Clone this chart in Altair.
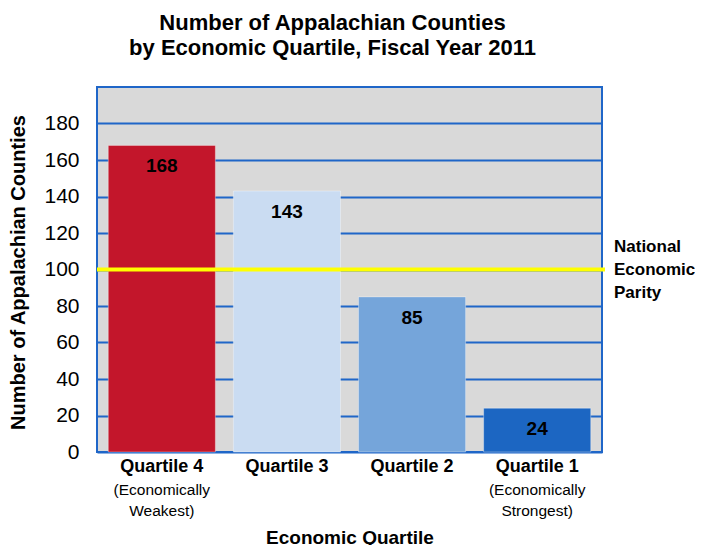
import altair as alt
import pandas as pd

categories = ["Quartile 4", "Quartile 3", "Quartile 2", "Quartile 1"]
counts = [168, 143, 85, 24]
colors = ["#c3162b", "#cadcf2", "#75a5da", "#1c66c2"]
sub1 = ["(Economically", "", "", "(Economically"]
sub2 = ["Weakest)", "", "", "Strongest)"]
parity_value = [100]
parity_label = ["National\nEconomic\nParity"]

df = pd.DataFrame({"q": categories, "n": counts, "c": colors, "s1": sub1, "s2": sub2})
FONT = "Liberation Sans"
W, H = 505, 365

xs = alt.X("q:N", sort=categories,
           scale=alt.Scale(paddingInner=0.144, paddingOuter=0.09),
           axis=alt.Axis(title="Economic Quartile", labelAngle=0, labelFont=FONT,
                         labelFontSize=18, labelFontWeight="bold", labelColor="black",
                         labelPadding=5, ticks=False, domain=False,
                         titleFont=FONT, titleFontSize=19, titleFontWeight="bold",
                         titleColor="black", titleY=76, titleBaseline="top"))
ys = alt.Y("n:Q", scale=alt.Scale(domain=[0, 200]),
           axis=alt.Axis(title="Number of Appalachian Counties", values=list(range(0, 181, 20)),
                         labelFont=FONT, labelFontSize=21, labelColor="black",
                         labelPadding=18, ticks=False, domain=False,
                         grid=True, gridColor="#1f66c8", gridWidth=2, gridOpacity=1,
                         titleFont=FONT, titleFontSize=20, titleFontWeight="bold",
                         titleColor="black", titleX=-69, titleY=185))

base = alt.Chart(df)
bars = base.mark_bar(strokeWidth=1, stroke="#ffffff", strokeOpacity=0.35).encode(
    x=xs, y=ys, color=alt.Color("c:N", scale=None))
labels = base.mark_text(font=FONT, fontSize=19, fontWeight="bold", color="black",
                        baseline="middle", dy=21).encode(
    x=alt.X("q:N", sort=categories), y="n:Q", text="n:Q")
s1 = base.mark_text(font=FONT, fontSize=15.5, color="black", baseline="middle").encode(
    x=alt.X("q:N", sort=categories), y=alt.value(H + 38), text="s1:N")
s2 = base.mark_text(font=FONT, fontSize=15.5, color="black", baseline="middle").encode(
    x=alt.X("q:N", sort=categories), y=alt.value(H + 59), text="s2:N")

pdf = pd.DataFrame({"v": parity_value, "t": parity_label})
rule = alt.Chart(pdf).mark_rule(color="#ffff00", strokeWidth=4).encode(
    y="v:Q", x=alt.value(0), x2=alt.value(W + 3))
plabel = alt.Chart(pdf).mark_text(font=FONT, fontSize=17, fontWeight="bold", color="black",
                                  align="left", baseline="middle", lineBreak="\n",
                                  lineHeight=23, dy=-23).encode(
    x=alt.value(W + 12), y="v:Q", text="t:N")

chart = alt.layer(bars, rule, labels, s1, s2, plabel).properties(
    width=W, height=H,
    autosize=alt.AutoSizeParams(type="none"),
    padding={"left": 89, "top": 79, "right": 93, "bottom": 93},
    view=alt.ViewBackground(fill="#d9d9d9", stroke="#1f66c8", strokeWidth=2),
    title=alt.Title(["Number of Appalachian Counties", "by Economic Quartile, Fiscal Year 2011"],
                    font=FONT, fontSize=22, fontWeight="bold", color="black",
                    anchor="middle", frame="group", dx=-17, offset=27, lineHeight=25),
).configure_view(fill="#d9d9d9", stroke="#1f66c8", strokeWidth=2).configure(background="white")

chart.save("out.html", embed_options={"renderer": "svg", "actions": False})
